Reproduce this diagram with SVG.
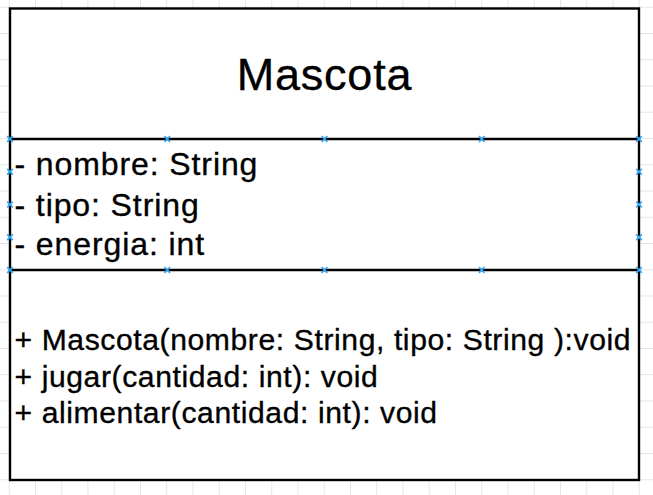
<svg xmlns="http://www.w3.org/2000/svg" xmlns:xlink="http://www.w3.org/1999/xlink" width="653" height="495" viewBox="0 0 653 495">
  <style>
    .frame { fill: #ffffff; stroke: #000000; stroke-width: 2.4; }
    .sep { stroke: #000000; stroke-width: 2.4; }
    text { fill: #000000; stroke: #000000; stroke-width: 0.35px; font-family: "Liberation Sans", Arial, sans-serif; }
    .title { font-size: 45px; letter-spacing: 0.8px; }
    .attr { font-size: 32px; letter-spacing: 0.9px; }
    .op { font-size: 30.1px; letter-spacing: 0.6px; }
    .pin { fill: none; stroke: #2fa4f0; stroke-width: 1.7; }
  </style>
  <defs>
    <pattern id="grid" x="8.75" y="6.75" width="26.25" height="26.25" patternUnits="userSpaceOnUse">
      <path d="M0 0.5 H26.25 M0.5 0 V26.25" fill="none" stroke="#e6e6e6" stroke-width="1"/>
    </pattern>
    <path id="pinMark" class="pin" d="M-2.8 -2.8 L2.8 2.8 M-2.8 2.8 L2.8 -2.8"/>
  </defs>

  <!-- canvas grid -->
  <rect x="0" y="0" width="653" height="495" fill="#ffffff"/>
  <rect x="0" y="0" width="653" height="495" fill="url(#grid)"/>

  <g id="connectors"/>

  <!-- class: Mascota -->
  <g id="mascota">
    <rect class="frame" x="10" y="8.5" width="629" height="471.5"/>
    <line class="sep" x1="10" y1="139" x2="639" y2="139"/>
    <line class="sep" x1="10" y1="270" x2="639" y2="270"/>

    <text class="title" x="324.5" y="90" text-anchor="middle">Mascota</text>

    <text class="attr" x="14.5" y="175">- nombre: String</text>
    <text class="attr" x="14.5" y="216">- tipo: String</text>
    <text class="attr" x="14.5" y="255">- energia: int</text>

    <text class="op" x="14.5" y="350">+ Mascota(nombre: String, tipo: String ):void</text>
    <text class="op" x="14.5" y="387">+ jugar(cantidad: int): void</text>
    <text class="op" x="14.5" y="423">+ alimentar(cantidad: int): void</text>

    <!-- connection points of the attribute compartment -->
    <use xlink:href="#pinMark" x="10" y="139"/>
    <use xlink:href="#pinMark" x="167.25" y="139"/>
    <use xlink:href="#pinMark" x="324.5" y="139"/>
    <use xlink:href="#pinMark" x="481.75" y="139"/>
    <use xlink:href="#pinMark" x="639" y="139"/>
    <use xlink:href="#pinMark" x="10" y="171.75"/>
    <use xlink:href="#pinMark" x="10" y="204.5"/>
    <use xlink:href="#pinMark" x="10" y="237.25"/>
    <use xlink:href="#pinMark" x="639" y="171.75"/>
    <use xlink:href="#pinMark" x="639" y="204.5"/>
    <use xlink:href="#pinMark" x="639" y="237.25"/>
    <use xlink:href="#pinMark" x="10" y="270"/>
    <use xlink:href="#pinMark" x="167.25" y="270"/>
    <use xlink:href="#pinMark" x="324.5" y="270"/>
    <use xlink:href="#pinMark" x="481.75" y="270"/>
    <use xlink:href="#pinMark" x="639" y="270"/>
  </g>
</svg>
